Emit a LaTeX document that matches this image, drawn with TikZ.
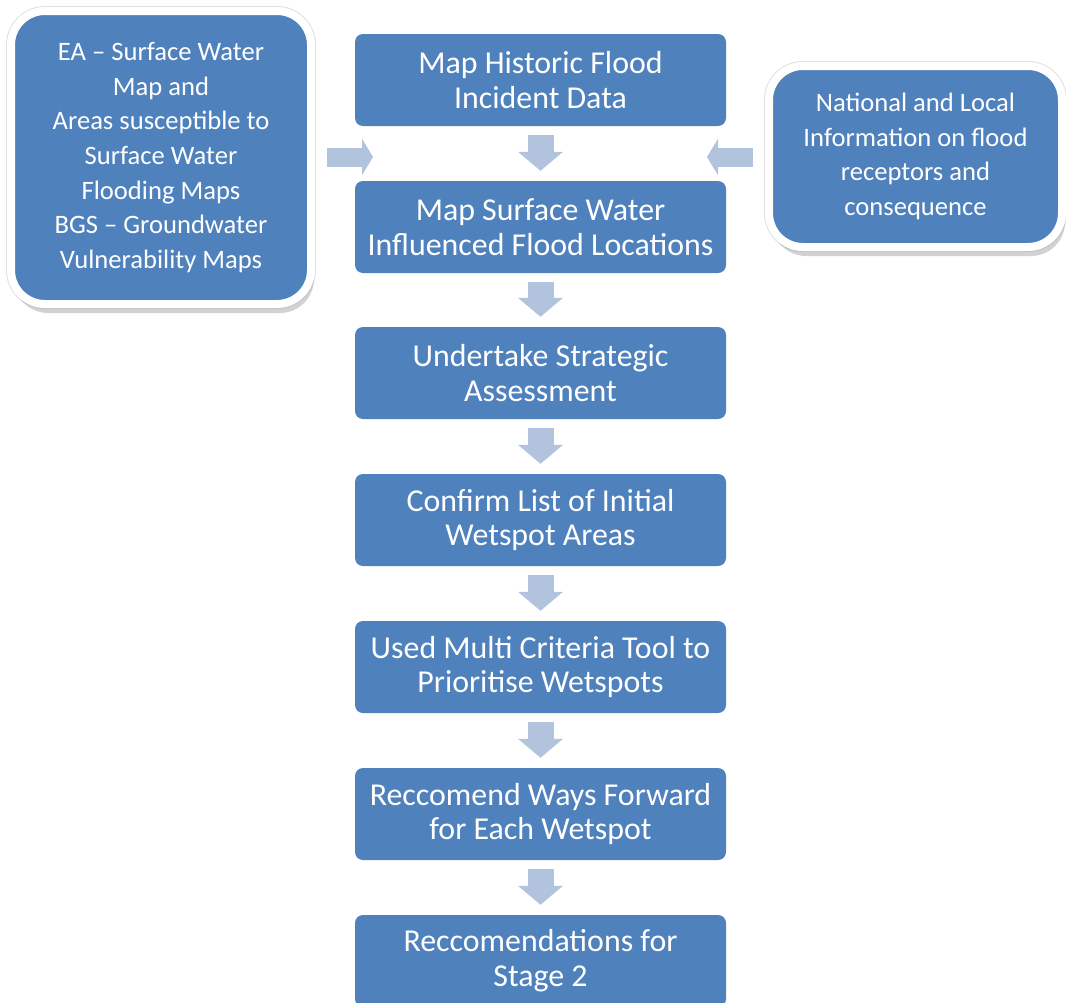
\documentclass[tikz,border=0pt]{standalone}
\usepackage{fontspec}
\setmainfont{Carlito}
\usepackage{tikz}
\usetikzlibrary{arrows.meta,shapes,shadows}
\definecolor{boxblue}{HTML}{4F81BD}
\definecolor{arrowblue}{HTML}{B2C3DE}

\begin{document}
\begin{tikzpicture}[
  stepbox/.style={fill=boxblue,rounded corners=8bp,minimum width=371bp,minimum height=92bp,inner sep=0pt,align=center,text=white,font=\fontsize{32}{35}\selectfont},
  sourcebox/.style={fill=boxblue,draw=white,line width=8bp,rounded corners=34bp,inner sep=0pt,align=center,text=white,font=\fontsize{26.7}{34.7}\selectfont,
    preaction={draw=black!12,line width=10bp},drop shadow={shadow xshift=3bp,shadow yshift=-9bp,fill=black!35}},
  downarrow/.style={draw=arrowblue,line width=26bp,-{Triangle[width=44bp,length=19bp]}},
  sidearrow/.style={draw=arrowblue,line width=19bp,-{Triangle[width=36bp,length=11bp]}}
]
\useasboundingbox (0bp,0bp) rectangle (1066bp,-1003bp);

\node (EA) at (161bp,-157.5bp)[sourcebox,minimum width=300bp,minimum height=293bp] {EA -- Surface Water\\Map and\\Areas susceptible to\\Surface Water\\Flooding Maps\\BGS -- Groundwater\\Vulnerability Maps};
\node (NL) at (915.5bp,-156.5bp)[sourcebox,minimum width=293bp,minimum height=181bp] {National and Local\\Information on flood\\receptors and\\consequence};

\node (S1) at (540.5bp,-80bp)[stepbox] {Map Historic Flood\\Incident Data};
\node (S2) at (540.5bp,-227bp)[stepbox] {Map Surface Water\\Influenced Flood Locations};
\node (S3) at (540.5bp,-373bp)[stepbox] {Undertake Strategic\\Assessment};
\node (S4) at (540.5bp,-520bp)[stepbox] {Confirm List of Initial\\Wetspot Areas};
\node (S5) at (540.5bp,-667bp)[stepbox] {Used Multi Criteria Tool to\\Prioritise Wetspots};
\node (S6) at (540.5bp,-814bp)[stepbox] {Reccomend Ways Forward\\for Each Wetspot};
\node (S7) at (540.5bp,-961bp)[stepbox] {Reccomendations for\\Stage 2};

\draw [downarrow] ([yshift=-9bp]S1.south) -- ([yshift=10bp]S2.north);
\draw [downarrow] ([yshift=-9bp]S2.south) -- ([yshift=10bp]S3.north);
\draw [downarrow] ([yshift=-9bp]S3.south) -- ([yshift=10bp]S4.north);
\draw [downarrow] ([yshift=-9bp]S4.south) -- ([yshift=10bp]S5.north);
\draw [downarrow] ([yshift=-9bp]S5.south) -- ([yshift=10bp]S6.north);
\draw [downarrow] ([yshift=-9bp]S6.south) -- ([yshift=10bp]S7.north);

\coordinate (EAin) at (373bp,-157bp);
\coordinate (NLin) at (707bp,-157bp);
\draw [sidearrow] (EA.east |- EAin) ++(12bp,0) -- (EAin);
\draw [sidearrow] (NL.west |- NLin) ++(-12bp,0) -- (NLin);
\end{tikzpicture}
\end{document}
